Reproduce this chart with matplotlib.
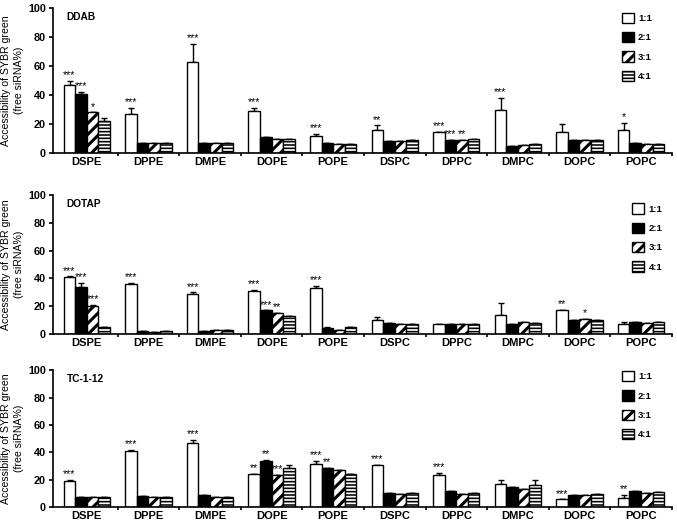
import matplotlib
matplotlib.use("Agg")
import matplotlib.pyplot as plt
import numpy as np

plt.rcParams['font.family'] = ['Liberation Sans', 'DejaVu Sans']

lipids = ['DSPE', 'DPPE', 'DMPE', 'DOPE', 'POPE', 'DSPC', 'DPPC', 'DMPC', 'DOPC', 'POPC']
ratios = ['1:1', '2:1', '3:1', '4:1']

# DDAB panel, one row per ratio
ddab = [
    [47, 27, 63, 29, 12, 16, 14.5, 30, 14.5, 16],
    [41, 7, 7, 11, 7, 8, 9, 5, 9, 7],
    [28, 7, 7, 10, 6, 8, 9, 5.5, 9, 6],
    [22, 7, 7, 10, 6, 9, 10, 6, 9, 6],
]
ddab_err = [
    [3, 4, 12, 2, 1, 3, 0, 8, 5.5, 5],
    [1, 0, 0, 0, 0, 0, 0, 0, 0, 0],
    [0, 0, 0, 0, 0, 0, 0, 0, 0, 0],
    [2, 0, 0, 0, 0, 0, 0, 0, 0, 0],
]
ddab_stars = [(0, 0, '***'), (0, 1, '***'), (0, 2, '*'), (1, 0, '***'), (2, 0, '***'),
              (3, 0, '***'), (4, 0, '***'), (5, 0, '**'), (6, 0, '***'), (6, 1, '***'),
              (6, 2, '**'), (7, 0, '***'), (9, 0, '*')]

# DOTAP panel
dotap = [
    [41, 36, 29, 31, 33, 10, 7.5, 14, 17, 7.5],
    [34, 2, 2, 17, 4.5, 8, 7.5, 7.5, 10, 8.3],
    [20, 1.5, 3, 15, 3, 7.5, 7.5, 8.8, 10.7, 8],
    [5, 2, 3, 13, 5, 7.5, 7.5, 8, 10, 8.3],
]
dotap_err = [
    [0.5, 1, 1, 0.5, 1.5, 2.5, 0, 8, 0.5, 1],
    [3, 0, 0, 0, 0.5, 0, 0, 0, 0, 0],
    [1, 0, 0, 0, 0, 0, 0, 0, 0, 0],
    [0, 0, 0, 0, 0, 0, 0, 0, 0, 0],
]
dotap_stars = [(0, 0, '***'), (0, 1, '***'), (0, 2, '***'), (1, 0, '***'), (2, 0, '***'),
               (3, 0, '***'), (3, 1, '***'), (3, 2, '**'), (4, 0, '***'), (8, 0, '**'),
               (8, 2, '*')]

# TC-1-12 panel
tc = [
    [19, 40.7, 47, 24.4, 31.5, 31, 23.7, 17, 5.6, 6.6],
    [7, 8, 8.5, 33.4, 28.8, 10.5, 11.5, 14.6, 8.5, 11.7],
    [7, 7.3, 7, 23.4, 26.8, 9.8, 9.3, 13, 9, 10.5],
    [7.3, 7, 7, 28.8, 24, 10.2, 10.2, 16.3, 9.3, 11],
]
tc_err = [
    [1, 1.3, 2, 0, 2.5, 0, 1.3, 3, 0, 2],
    [0, 0, 0, 1.2, 0, 0, 0, 0, 0, 0],
    [0, 0, 0, 0, 0, 0, 0, 0, 0, 0],
    [0, 0, 0, 1.7, 0, 0, 0, 3.2, 0, 0],
]
tc_stars = [(0, 0, '***'), (1, 0, '***'), (2, 0, '***'), (3, 0, '**'), (3, 1, '**'),
            (3, 2, '***'), (4, 0, '***'), (4, 1, '**'), (5, 0, '***'), (6, 0, '***'),
            (8, 0, '***'), (9, 0, '**')]

panels = [('DDAB', ddab, ddab_err, ddab_stars),
          ('DOTAP', dotap, dotap_err, dotap_stars),
          ('TC-1-12', tc, tc_err, tc_stars)]

faces = ['white', 'black', 'white', 'white']
hatches = [None, None, '///', '-----']
hatch_lw = [1.0, 1.0, 2.2, 1.15]

fig = plt.figure(figsize=(6.77, 5.24), dpi=100)
boxes = [[0.0783, 0.708, 0.914, 0.2767],
         [0.0783, 0.3626, 0.914, 0.265],
         [0.0783, 0.0324, 0.914, 0.261]]
legend_anchor = [(0.968, 0.968), (0.985, 0.94), (0.968, 0.995)]

x = np.arange(len(lipids))
w = 0.1875
for (name, vals, errs, stars), box, anc in zip(panels, boxes, legend_anchor):
    ax = fig.add_axes(box)
    for i in range(4):
        pos = x + (i - 1.5) * w
        bars = ax.bar(pos, vals[i], w, color=faces[i], edgecolor='black', linewidth=1,
                      hatch=hatches[i], label=ratios[i], zorder=2)
        for b in bars:
            b.set_hatch_linewidth(hatch_lw[i])
        e = np.array(errs[i])
        ax.errorbar(pos, vals[i], yerr=[np.zeros_like(e), e], fmt='none', ecolor='black',
                    elinewidth=1, capsize=2.5, capthick=1, zorder=1)
    for g, s, lab in stars:
        px = x[g] + (s - 1.5) * w
        py = vals[s][g] + errs[s][g] + 0.5
        ax.text(px, py, lab, ha='center', va='bottom', fontsize=7.8)
    ax.set_xlim(-0.55, 9.5)
    ax.set_ylim(0, 100)
    ax.set_yticks(np.arange(0, 101, 20))
    ax.set_xticks(x)
    ax.set_xticklabels(lipids, fontsize=8, fontweight='bold')
    ax.set_xticks(x + 0.5, minor=True)
    ax.tick_params(axis='x', which='major', length=0, pad=3)
    ax.tick_params(axis='x', which='minor', length=2.5, direction='out', width=1.2)
    ax.tick_params(axis='y', labelsize=7.8, length=3, width=1.2, pad=2)
    for t in ax.get_yticklabels():
        t.set_fontweight('bold')
    for sp in ['top', 'right']:
        ax.spines[sp].set_visible(False)
    for sp in ['left', 'bottom']:
        ax.spines[sp].set_linewidth(1.2)
    ax.set_ylabel('Accessibility of SYBR green\n(free siRNA%)', fontsize=7.6,
                  labelpad=3, linespacing=1.35)
    ax.text(0.022, 0.975, name, transform=ax.transAxes, fontsize=7.3, fontweight='bold',
            va='top', ha='left')
    leg = ax.legend(loc='upper right', bbox_to_anchor=anc, frameon=False,
                    prop={'size': 6.8, 'weight': 'bold'}, borderpad=0, borderaxespad=0,
                    handlelength=1.3, handleheight=1.3, labelspacing=0.95, handletextpad=0.45)
    for h, lw in zip(leg.legend_handles, hatch_lw):
        h.set_hatch_linewidth(lw)

fig.savefig('out.png', dpi=100)
